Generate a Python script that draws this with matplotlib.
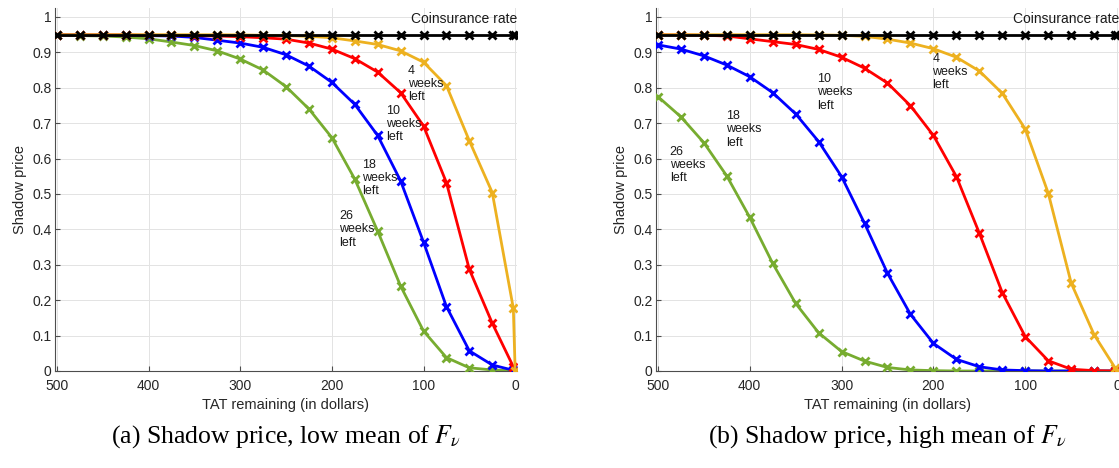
import matplotlib
matplotlib.use("Agg")
import matplotlib.pyplot as plt
import numpy as np

plt.rcParams['font.family'] = ['Liberation Sans', 'DejaVu Sans']
plt.rcParams['mathtext.fontset'] = 'stix'

# TAT remaining (dollars) at which the shadow price was evaluated
tat_remaining = [500, 475, 450, 425, 400, 375, 350, 325, 300, 275, 250,
                 225, 200, 175, 150, 125, 100, 75, 50, 25, 2, 0]

coinsurance_rate = 0.95

# (a) low mean of F_nu
low_4wk = [0.9495, 0.9495, 0.9495, 0.9495, 0.9495, 0.9495, 0.9495, 0.9493, 0.949, 0.948, 0.947,
           0.945, 0.941, 0.932, 0.922, 0.904, 0.872, 0.806, 0.650, 0.504, 0.177, 0.0]
low_10wk = [0.949, 0.949, 0.949, 0.949, 0.948, 0.948, 0.947, 0.946, 0.944, 0.941, 0.937,
            0.926, 0.909, 0.882, 0.844, 0.786, 0.692, 0.532, 0.287, 0.135, 0.012, 0.0]
low_18wk = [0.949, 0.949, 0.948, 0.948, 0.947, 0.946, 0.942, 0.934, 0.926, 0.914, 0.893,
            0.861, 0.815, 0.753, 0.665, 0.537, 0.364, 0.182, 0.057, 0.017, 0.002, 0.0]
low_26wk = [0.949, 0.947, 0.946, 0.943, 0.938, 0.929, 0.919, 0.904, 0.881, 0.850, 0.803,
            0.740, 0.659, 0.542, 0.395, 0.240, 0.113, 0.038, 0.009, 0.003, 0.0005, 0.0]

# (b) high mean of F_nu
high_4wk = [0.9495, 0.9495, 0.9495, 0.9495, 0.9495, 0.9495, 0.9495, 0.949, 0.948, 0.945, 0.937,
            0.926, 0.910, 0.886, 0.847, 0.784, 0.683, 0.502, 0.248, 0.102, 0.008, 0.0]
high_10wk = [0.949, 0.949, 0.948, 0.946, 0.938, 0.930, 0.922, 0.908, 0.886, 0.855, 0.813,
             0.749, 0.665, 0.549, 0.389, 0.221, 0.097, 0.029, 0.005, 0.001, 0.0, 0.0]
high_18wk = [0.921, 0.909, 0.890, 0.864, 0.831, 0.786, 0.726, 0.648, 0.549, 0.417, 0.276,
             0.160, 0.078, 0.033, 0.012, 0.003, 0.001, 0.0, 0.0, 0.0, 0.0, 0.0]
high_26wk = [0.775, 0.718, 0.645, 0.551, 0.434, 0.304, 0.191, 0.108, 0.055, 0.028, 0.010,
             0.003, 0.001, 0.0, 0.0, 0.0, 0.0, 0.0, 0.0, 0.0, 0.0, 0.0]

weeks_labels = ["26\nweeks\nleft", "18\nweeks\nleft", "10\nweeks\nleft", "4\nweeks\nleft"]
colors = ["#77AC30", "#0000FF", "#FF0000", "#EDB120"]

panels = [
    dict(series=[low_26wk, low_18wk, low_10wk, low_4wk],
         label_pos=[(192, 0.455), (167, 0.60), (141, 0.752), (117, 0.865)],
         caption="(a) Shadow price, low mean of $F_\\nu$",
         rect=[55 / 1119, 97 / 468, 462 / 1119, 363 / 468]),
    dict(series=[high_26wk, high_18wk, high_10wk, high_4wk],
         label_pos=[(487, 0.636), (426, 0.737), (327, 0.842), (201, 0.899)],
         caption="(b) Shadow price, high mean of $F_\\nu$",
         rect=[656 / 1119, 97 / 468, 463 / 1119, 363 / 468]),
]

fig = plt.figure(figsize=(11.19, 4.68), dpi=100)
axis_grey = "#4d4d4d"
text_col = "#262626"

for p in panels:
    ax = fig.add_axes(p["rect"])
    for vals, col in zip(p["series"], colors):
        ax.plot(tat_remaining, vals, color=col, lw=2.0, marker="x",
                ms=6, mew=2.0, zorder=3)
    ax.plot(tat_remaining, np.full(len(tat_remaining), coinsurance_rate),
            color="black", lw=2.0, marker="x", ms=6, mew=2.0, zorder=4)

    ax.set_xlim(502, -2)
    ax.set_ylim(0, 1.025)
    ax.set_xticks([500, 400, 300, 200, 100, 0])
    ax.set_yticks(np.arange(0, 1.01, 0.1))
    ax.set_yticklabels(["0", "0.1", "0.2", "0.3", "0.4", "0.5", "0.6",
                        "0.7", "0.8", "0.9", "1"])
    ax.grid(True, color="#e3e3e3", lw=0.7, zorder=0)
    ax.set_axisbelow(True)
    for s in ("top", "right"):
        ax.spines[s].set_visible(False)
    for s in ("left", "bottom"):
        ax.spines[s].set_color(axis_grey)
        ax.spines[s].set_linewidth(0.8)
    ax.tick_params(direction="in", length=3.5, width=0.8, colors=axis_grey,
                   labelcolor=text_col, labelsize=10)
    ax.tick_params(axis="y", pad=2.5)
    ax.tick_params(axis="x", pad=6)
    ax.set_xlabel("TAT remaining (in dollars)", fontsize=10.5, color=text_col, labelpad=3)
    ax.set_ylabel("Shadow price", fontsize=10.5, color=text_col, labelpad=4)

    ax.text(-2, 0.994, "Coinsurance rate", ha="right", va="center",
            fontsize=10, color="#1a1a1a")
    for txt, (xv, yv) in zip(weeks_labels, p["label_pos"]):
        ax.text(xv, yv, txt, ha="left", va="top", fontsize=9,
                color="#1a1a1a", linespacing=1.15, zorder=5)

    x0, y0, w, h = p["rect"]
    fig.text(x0 + w / 2, 0.068, p["caption"], ha="center", va="center",
             fontsize=18.5, family=["Liberation Serif", "DejaVu Serif"])

fig.savefig("out.png", dpi=100)
